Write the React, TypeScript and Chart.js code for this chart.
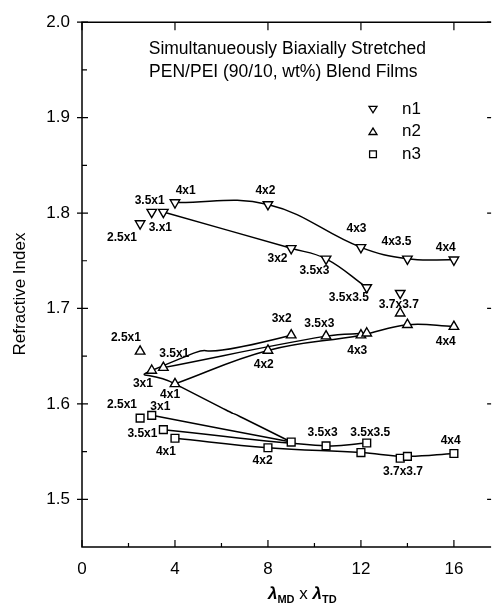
import React, { useEffect, useRef } from "react";
import { Chart, registerables } from "chart.js";

Chart.register(...registerables);

// ---- data ----
const stretchProducts = [2.5, 3, 3.5, 4, 8, 9, 10.5, 12, 12.25, 13.69, 14, 16];
const n1Values = [1.789, 1.801, 1.801, 1.811, 1.809, 1.763, 1.752, 1.764, 1.722, 1.716, 1.752, 1.751];
const n2Values = [1.655, 1.635, 1.638, 1.621, 1.656, 1.672, 1.671, 1.672, 1.674, 1.695, 1.683, 1.681];
const n3Values = [1.585, 1.588, 1.573, 1.564, 1.554, 1.56, 1.556, 1.549, 1.559, 1.543, 1.545, 1.548];

// guide curves: indices into the series
const n1Paths = [[3, 4, 7, 10, 11], [2, 5, 6, 8]];
const n2Paths = [[3, 4, 7, 10, 11], [2, 6, 8]];
const n3Paths = [[3, 4, 7, 10, 11], [2, 6, 8], [1, 5]];
const loopPath: [string, number][] = [["n2", 5], ["n2", 1], ["n2", 3], ["n3", 5]];

const xTickValues = [0, 4, 8, 12, 16];
const xMinorValues = [2, 6, 10, 14];
const yTickValues = [1.5, 1.6, 1.7, 1.8, 1.9, 2.0];
const yMinorValues = [1.55, 1.65, 1.75, 1.85, 1.95];

const titleLines = ["Simultanueously Biaxially Stretched", "PEN/PEI (90/10, wt%) Blend Films"];
const legendNames = ["n1", "n2", "n3"];

// point annotations: [text, x, y] in data units
const n1Labels: [string, number, number][] = [
  ["2.5x1", 1.72, 1.774], ["3.5x1", 2.91, 1.813], ["3.x1", 3.37, 1.785], ["4x1", 4.46, 1.823],
  ["4x2", 7.89, 1.823], ["3x2", 8.41, 1.752], ["3.5x3", 10.0, 1.74], ["4x3", 11.81, 1.784],
  ["4x3.5", 13.53, 1.77], ["4x4", 15.65, 1.764], ["3.5x3.5", 11.48, 1.711], ["3.7x3.7", 13.63, 1.704],
];
const n2Labels: [string, number, number][] = [
  ["2.5x1", 1.89, 1.669], ["3.5x1", 3.97, 1.653], ["3x1", 2.62, 1.621], ["4x1", 3.79, 1.61],
  ["4x2", 7.82, 1.641], ["3x2", 8.59, 1.689], ["3.5x3", 10.21, 1.684], ["4x3", 11.84, 1.656],
  ["4x4", 15.65, 1.665],
];
const n3Labels: [string, number, number][] = [
  ["2.5x1", 1.72, 1.599], ["3x1", 3.37, 1.597], ["3.5x1", 2.6, 1.569], ["4x1", 3.61, 1.55],
  ["4x2", 7.77, 1.54], ["3.5x3", 10.35, 1.57], ["3.5x3.5", 12.4, 1.57], ["3.7x3.7", 13.81, 1.5285],
  ["4x4", 15.86, 1.561],
];

const FONT = '"Liberation Sans", Arial, Helvetica, sans-serif';

const seriesMap: Record<string, number[]> = { n1: n1Values, n2: n2Values, n3: n3Values };

function pts(vals: number[]) {
  return stretchProducts.map((x, i) => ({ x, y: vals[i] }));
}
function pathPts(vals: number[], idx: number[]) {
  return idx.map((i) => ({ x: stretchProducts[i], y: vals[i] }));
}

function drawMarker(ctx: CanvasRenderingContext2D, kind: string, cx: number, cy: number, r: number) {
  ctx.beginPath();
  if (kind === "down") {
    ctx.moveTo(cx - r, cy - r * 0.7);
    ctx.lineTo(cx + r, cy - r * 0.7);
    ctx.lineTo(cx, cy + r * 0.9);
    ctx.closePath();
  } else if (kind === "up") {
    ctx.moveTo(cx - r, cy + r * 0.7);
    ctx.lineTo(cx + r, cy + r * 0.7);
    ctx.lineTo(cx, cy - r * 0.9);
    ctx.closePath();
  } else {
    ctx.rect(cx - r * 0.85, cy - r * 0.85, r * 1.7, r * 1.7);
  }
  ctx.fillStyle = "#fff";
  ctx.fill();
  ctx.stroke();
}

const overlay = {
  id: "overlay",
  beforeDatasetsDraw(chart: any) {
    const { ctx, chartArea } = chart;
    const { left, right, top, bottom } = chartArea;
    const xs = chart.scales.x;
    const ys = chart.scales.y;
    ctx.save();
    ctx.strokeStyle = "#000";
    ctx.lineWidth = 1.5;
    ctx.beginPath();
    ctx.moveTo(right, top);
    ctx.lineTo(left, top);
    ctx.lineTo(left, bottom);
    ctx.lineTo(right, bottom);
    ctx.stroke();
    ctx.lineWidth = 1.2;
    ctx.beginPath();
    for (const v of xTickValues) {
      const px = xs.getPixelForValue(v);
      ctx.moveTo(px, bottom); ctx.lineTo(px, bottom - 7);
      ctx.moveTo(px, top); ctx.lineTo(px, top + 8);
    }
    for (const v of xMinorValues) {
      const px = xs.getPixelForValue(v);
      ctx.moveTo(px, bottom); ctx.lineTo(px, bottom - 4);
    }
    for (const v of yTickValues) {
      const py = ys.getPixelForValue(v);
      ctx.moveTo(left - 5, py); ctx.lineTo(left + 6, py);
      ctx.moveTo(right, py); ctx.lineTo(right - 4, py);
    }
    for (const v of yMinorValues) {
      const py = ys.getPixelForValue(v);
      ctx.moveTo(left, py); ctx.lineTo(left + 5, py);
    }
    ctx.stroke();
    ctx.restore();
  },
  afterDraw(chart: any) {
    const { ctx, chartArea } = chart;
    const { left, right, top } = chartArea;
    const xs = chart.scales.x;
    const ys = chart.scales.y;
    ctx.save();
    ctx.fillStyle = "#000";
    ctx.textAlign = "center";
    ctx.textBaseline = "middle";
    ctx.font = `bold 12px ${FONT}`;
    for (const group of [n1Labels, n2Labels, n3Labels]) {
      for (const [t, lx, ly] of group) {
        ctx.fillText(t, xs.getPixelForValue(lx), ys.getPixelForValue(ly));
      }
    }
    // title
    ctx.font = `17.5px ${FONT}`;
    const cx = left + (right - left) * 0.497;
    ctx.fillText(titleLines[0], cx + 2, top + 27);
    ctx.fillText(titleLines[1], cx - 2, top + 50);
    // legend
    const kinds = ["down", "up", "square"];
    ctx.strokeStyle = "#000";
    ctx.lineWidth = 1.3;
    legendNames.forEach((name, i) => {
      const ly = top + 87 + i * 22.5;
      drawMarker(ctx, kinds[i], 373, ly, 4);
      ctx.fillStyle = "#000";
      ctx.textAlign = "left";
      ctx.font = `17px ${FONT}`;
      ctx.fillText(name, 402, ly);
    });
    // y title
    ctx.save();
    ctx.translate(20, 294);
    ctx.rotate(-Math.PI / 2);
    ctx.textAlign = "center";
    ctx.font = `17px ${FONT}`;
    ctx.fillText("Refractive Index", 0, 0);
    ctx.restore();
    // x title with subscripts
    ctx.textAlign = "left";
    ctx.textBaseline = "alphabetic";
    const base = 599;
    let x0 = 268;
    const parts: [string, string][] = [["λ", "MD"], ["λ", "TD"]];
    parts.forEach(([sym, sub], i) => {
      ctx.font = `italic bold 17px ${FONT}`;
      ctx.fillText(sym, x0, base);
      x0 += ctx.measureText(sym).width;
      ctx.font = `bold 11px ${FONT}`;
      ctx.fillText(sub, x0, base + 4);
      x0 += ctx.measureText(sub).width;
      if (i === 0) {
        ctx.font = `17px ${FONT}`;
        ctx.fillText(" x ", x0, base);
        x0 += ctx.measureText(" x ").width;
      }
    });
    ctx.restore();
  },
};

export default function App() {
  const ref = useRef<HTMLCanvasElement>(null);
  useEffect(() => {
    if (!ref.current) return;
    const lineDs = (data: any[], tension = 0.4) => ({
      type: "line" as const,
      data,
      borderColor: "#000",
      borderWidth: 1.5,
      pointRadius: 0,
      tension,
      fill: false,
      showLine: true,
      order: 2,
    });
    const lines: any[] = [];
    n1Paths.forEach((p) => lines.push(lineDs(pathPts(n1Values, p))));
    n2Paths.forEach((p) => lines.push(lineDs(pathPts(n2Values, p))));
    n3Paths.forEach((p) => lines.push(lineDs(pathPts(n3Values, p))));
    lines.push(lineDs(loopPath.map(([s, i]) => ({ x: stretchProducts[i], y: seriesMap[s][i] })), 1.0));

    const markerDs = (label: string, vals: number[], style: string, rot: number, r: number) => ({
      type: "scatter" as const,
      label,
      data: pts(vals),
      pointStyle: style,
      rotation: rot,
      pointRadius: r,
      pointBorderColor: "#000",
      pointBackgroundColor: "#fff",
      pointBorderWidth: 1.4,
      showLine: false,
      order: 1,
    });

    const chart = new Chart(ref.current, {
      type: "scatter",
      data: {
        datasets: [
          markerDs("n1", n1Values, "triangle", 180, 5.5),
          markerDs("n2", n2Values, "triangle", 0, 5.5),
          markerDs("n3", n3Values, "rect", 0, 5.5),
          ...lines,
        ],
      },
      options: {
        responsive: false,
        animation: false,
        devicePixelRatio: 1,
        layout: { padding: { top: 20, left: 0, right: 0, bottom: 0 } },
        plugins: { legend: { display: false }, tooltip: { enabled: false }, title: { display: false } },
        scales: {
          x: {
            type: "linear",
            min: 0,
            max: 17.6,
            grid: { display: false, drawTicks: false },
            border: { display: false },
            afterBuildTicks: (s: any) => { s.ticks = xTickValues.map((v) => ({ value: v })); },
            afterFit: (s: any) => { s.height = 61; },
            ticks: { color: "#000", font: { family: FONT, size: 17 }, padding: 12, maxRotation: 0, autoSkip: false },
          },
          y: {
            type: "linear",
            min: 1.45,
            max: 2.0,
            grid: { display: false, drawTicks: false },
            border: { display: false },
            afterBuildTicks: (s: any) => { s.ticks = yTickValues.map((v) => ({ value: v })); },
            afterFit: (s: any) => { s.width = 82; },
            ticks: {
              color: "#000",
              font: { family: FONT, size: 17 },
              padding: 12,
              autoSkip: false,
              callback: (v: any) => Number(v).toFixed(1),
            },
          },
        },
      },
      plugins: [overlay],
    });
    return () => chart.destroy();
  }, []);
  return (
    <div style={{ position: "fixed", left: 0, top: 0, width: 498, height: 608, background: "#fff" }}>
      <canvas ref={ref} width={498} height={608} />
    </div>
  );
}
